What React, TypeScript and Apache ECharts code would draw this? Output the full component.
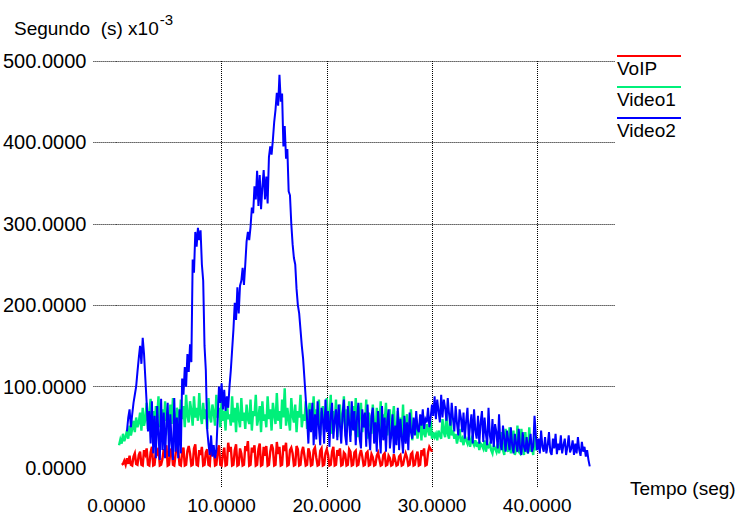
import React, { useEffect, useRef } from "react";
import * as echarts from "echarts";

// ---- axis definitions ----
const X_TICKS = [0, 10, 20, 30, 40];
const X_INNER_TICKS = [10, 20, 30, 40];
const Y_TICKS = [100, 200, 300, 400, 500];
const X_MAX = 47.4;
const Y_MAX = 500;

// ---- series ----
const SERIES_NAMES = ["VoIP", "Video1", "Video2"];
const SERIES_COLORS = ["#ff0000", "#00f07a", "#0000ff"];
const SAMPLE_STEP = 0.125; // seconds between samples
const SERIES_START = [0.5, 0.25, 1.0]; // first sample time (s)

// VoIP delay (s x 10^-3), one sample every 0.125 s from t = 0.5 (16 samples = 2 s per row)
const VOIP = [
  4, 5, 9, 4, 12, 5, 15, 4, 3, 14, 18, 5, 4, 16, 20, 4,
  3, 22, 17, 24, 4, 3, 19, 26, 3, 4, 21, 18, 25, 3, 4, 11,
  23, 15, 28, 3, 4, 20, 24, 4, 3, 17, 30, 22, 4, 3, 19, 25,
  3, 4, 21, 27, 18, 3, 4, 24, 29, 4, 3, 22, 16, 26, 3, 4,
  19, 23, 4, 3, 27, 15, 24, 3, 4, 21, 28, 4, 3, 17, 25, 3,
  4, 31, 20, 26, 3, 4, 22, 29, 3, 4, 24, 18, 3, 4, 27, 21,
  33, 3, 4, 25, 19, 28, 3, 4, 23, 30, 3, 4, 26, 15, 27, 3,
  4, 20, 29, 24, 3, 4, 32, 17, 26, 3, 4, 28, 21, 31, 3, 4,
  22, 25, 18, 3, 4, 27, 23, 3, 4, 20, 26, 15, 3, 4, 24, 19,
  3, 4, 22, 25, 13, 3, 4, 21, 24, 3, 4, 18, 23, 16, 3, 4,
  20, 26, 3, 4, 22, 15, 24, 3, 4, 19, 17, 3, 4, 23, 20, 3,
  4, 19, 21, 3, 4, 16, 22, 14, 3, 4, 18, 20, 3, 4, 17, 13,
  3, 4, 15, 19, 11, 3, 4, 16, 18, 3, 4, 15, 12, 3, 4, 17,
  10, 3, 4, 14, 16, 3, 4, 12, 18, 13, 3, 4, 17, 19, 3, 4,
  15, 20, 3, 4, 22, 18, 24, 3, 4, 19, 26, 23, 20,
];

// Video1 delay, one sample every 0.125 s from t = 0.25
const VIDEO1 = [
  28, 35, 30, 42, 33, 38, 46, 36, 52, 40, 48, 58, 44, 62, 50, 56,
  68, 46, 74, 52, 60, 80, 48, 66, 85, 55, 70, 42, 76, 62, 88, 50,
  64, 72, 45, 82, 58, 68, 40, 78, 54, 86, 62, 48, 74, 66, 52, 84,
  60, 76, 50, 90, 64, 56, 82, 70, 52, 88, 62, 74, 58, 92, 66, 54,
  80, 60, 72, 48, 86, 64, 56, 78, 68, 52, 90, 62, 74, 50, 84, 58,
  70, 46, 82, 60, 66, 52, 88, 56, 74, 44, 80, 62, 50, 86, 58, 68,
  48, 78, 60, 54, 84, 46, 70, 64, 90, 52, 62, 76, 44, 82, 58, 66,
  50, 88, 60, 72, 46, 80, 66, 54, 92, 58, 70, 48, 84, 62, 98, 52,
  74, 60, 46, 86, 64, 56, 78, 44, 70, 62, 90, 50, 66, 58, 82, 48,
  68, 80, 52, 60, 88, 44, 72, 56, 84, 40, 66, 76, 50, 62, 86, 46,
  58, 90, 42, 70, 54, 84, 38, 66, 78, 48, 60, 88, 44, 72, 52, 82,
  40, 64, 76, 46, 86, 56, 38, 70, 80, 44, 62, 50, 84, 36, 68, 58,
  42, 78, 52, 34, 74, 60, 46, 82, 38, 66, 56, 80, 40, 62, 72, 36,
  58, 76, 44, 34, 70, 50, 62, 40, 78, 32, 54, 66, 38, 48, 72, 34,
  52, 44, 60, 36, 48, 56, 34, 62, 42, 38, 54, 46, 40, 58, 36, 44,
  38, 42, 34, 46, 40, 36, 60, 44, 38, 68, 42, 36, 64, 40, 46, 36,
  42, 30, 38, 48, 32, 36, 28, 40, 34, 30, 38, 26, 36, 32, 28, 34,
  26, 32, 22, 30, 28, 24, 34, 20, 28, 26, 30, 22, 18, 28, 24, 20,
  30, 18, 26, 44, 22, 16, 48, 24, 20, 50, 18, 26, 46, 16, 22, 52,
  20, 18, 48, 24, 16, 44, 22, 18, 50, 20, 26, 16, 46, 22, 28,
];

// Video2 delay, one sample every 0.125 s from t = 1.0
const VIDEO2 = [
  45, 62, 72, 50, 66, 80, 90, 100, 118, 135, 150, 128, 160, 140, 110, 80,
  45, 70, 30, 82, 18, 64, 12, 76, 40, 10, 85, 22, 68, 12, 54, 80,
  14, 66, 30, 10, 86, 20, 62, 12, 72, 18, 110, 90, 124, 100, 140, 118,
  152, 130, 256, 240, 290, 272, 295, 280, 292, 250, 230, 150, 120, 48, 30, 16,
  40, 14, 28, 12, 22, 60, 100, 80, 104, 72, 96, 70, 88, 74, 100, 120,
  145, 170, 203, 182, 222, 190, 224, 230, 246, 225, 250, 278, 290, 280, 296, 320,
  313, 346, 330, 365, 322, 360, 318, 345, 366, 330, 358, 325, 382, 395, 385, 403,
  425, 440, 461, 445, 483, 450, 460, 395, 420, 380, 392, 340, 335, 300, 275, 258,
  250, 220, 200, 190, 170, 150, 134, 110, 85, 60, 30, 72, 44, 80, 28, 66,
  35, 82, 50, 28, 74, 60, 30, 84, 44, 70, 26, 64, 80, 36, 58, 72,
  34, 78, 52, 30, 66, 84, 40, 28, 76, 56, 32, 82, 46, 70, 28, 62,
  80, 36, 24, 72, 50, 68, 26, 78, 42, 22, 64, 74, 30, 56, 20, 70,
  46, 18, 76, 34, 62, 20, 58, 72, 24, 40, 66, 18, 52, 28, 74, 22,
  60, 38, 18, 64, 30, 56, 22, 68, 44, 36, 62, 40, 70, 48, 44, 66,
  52, 72, 48, 60, 56, 74, 50, 62, 78, 64, 88, 60, 84, 70, 56, 90,
  62, 84, 74, 58, 86, 66, 52, 80, 60, 45, 76, 55, 40, 72, 62, 44,
  68, 36, 58, 74, 34, 52, 66, 30, 72, 46, 36, 64, 30, 56, 70, 32,
  62, 42, 28, 74, 40, 30, 60, 26, 54, 44, 24, 66, 30, 22, 52, 36,
  20, 46, 34, 22, 50, 28, 18, 42, 30, 20, 48, 24, 16, 44, 26, 20,
  38, 18, 30, 42, 20, 26, 64, 40, 22, 36, 18, 46, 26, 20, 38, 18,
  28, 44, 20, 16, 36, 24, 42, 17, 30, 22, 40, 18, 28, 36, 16, 26,
  40, 19, 24, 34, 16, 30, 18, 38, 22, 15, 32, 20, 26, 14, 22, 10,
  2,
];

const SERIES_VALUES = [VOIP, VIDEO1, VIDEO2];
const SERIES_WIDTHS = [2.4, 2.4, 2];

const FONT = "Arial, 'Liberation Sans', sans-serif";
const DOTTED = [1, 1];
const fmt = (v: number) => v.toFixed(4);

export default function App() {
  const ref = useRef<HTMLDivElement>(null);

  useEffect(() => {
    if (!ref.current) return;
    const chart = echarts.init(ref.current, undefined, { renderer: "svg" });

    const series = SERIES_NAMES.map((name, k) => ({
      name,
      type: "line",
      data: SERIES_VALUES[k].map((v, i) => [SERIES_START[k] + i * SAMPLE_STEP, v]),
      showSymbol: false,
      symbol: "none",
      silent: true,
      lineStyle: { color: SERIES_COLORS[k], width: SERIES_WIDTHS[k], join: "miter", miterLimit: 4 },
      itemStyle: { color: SERIES_COLORS[k] },
      z: 2 + k,
    }));

    const legendGraphics: any[] = [];
    SERIES_NAMES.forEach((name, k) => {
      const lineY = 56 + k * 31;
      legendGraphics.push({
        type: "line",
        shape: { x1: 617, y1: lineY, x2: 681, y2: lineY },
        style: { stroke: SERIES_COLORS[k], lineWidth: 2 },
      });
      legendGraphics.push({
        type: "text",
        x: 617,
        y: lineY + 12,
        style: {
          text: name,
          font: `19px ${FONT}`,
          fill: "#000",
          verticalAlign: "middle",
        },
      });
    });

    chart.setOption({
      animation: false,
      backgroundColor: "#ffffff",
      grid: { left: 114, right: 124, top: 61, bottom: 48, containLabel: false },
      xAxis: {
        type: "value",
        min: 0,
        max: X_MAX,
        interval: 10,
        axisLine: { show: false },
        axisTick: {
          show: true,
          customValues: X_INNER_TICKS,
          length: 20,
          lineStyle: { color: "#000", type: DOTTED, width: 1 },
        },
        axisLabel: {
          customValues: X_TICKS,
          formatter: fmt,
          color: "#000",
          fontSize: 19,
          fontFamily: FONT,
          margin: 28,
        },
        splitLine: {
          show: true,
          showMinLine: true,
          showMaxLine: true,
          lineStyle: { color: "#000", type: DOTTED, width: 1 },
        },
      },
      yAxis: {
        type: "value",
        min: 0,
        max: Y_MAX,
        interval: 100,
        axisLine: { show: false },
        axisTick: {
          show: true,
          customValues: Y_TICKS,
          length: 24,
          lineStyle: { color: "#000", type: DOTTED, width: 1 },
        },
        axisLabel: {
          formatter: fmt,
          color: "#000",
          fontSize: 20,
          fontFamily: FONT,
          margin: 30,
        },
        splitLine: {
          show: true,
          showMinLine: true,
          showMaxLine: true,
          lineStyle: { color: "#000", type: DOTTED, width: 1 },
        },
      },
      series,
      graphic: [
        {
          type: "text",
          x: 14,
          y: 12,
          style: {
            text: "{a|Segundo  (s) x10}{b|-3}",
            rich: {
              a: { font: `19px ${FONT}`, fill: "#000", lineHeight: 26, verticalAlign: "bottom" },
              b: { font: `15px ${FONT}`, fill: "#000", lineHeight: 26, verticalAlign: "top", padding: [0, 0, 10, 1] },
            },
          },
        },
        {
          type: "text",
          x: 630,
          y: 488,
          style: {
            text: "Tempo (seg)",
            font: `19px ${FONT}`,
            fill: "#000",
            verticalAlign: "middle",
          },
        },
        ...legendGraphics,
      ],
    });

    return () => chart.dispose();
  }, []);

  return (
    <div
      ref={ref}
      style={{ position: "fixed", left: 0, top: 0, width: 739, height: 516, background: "#fff" }}
    />
  );
}
